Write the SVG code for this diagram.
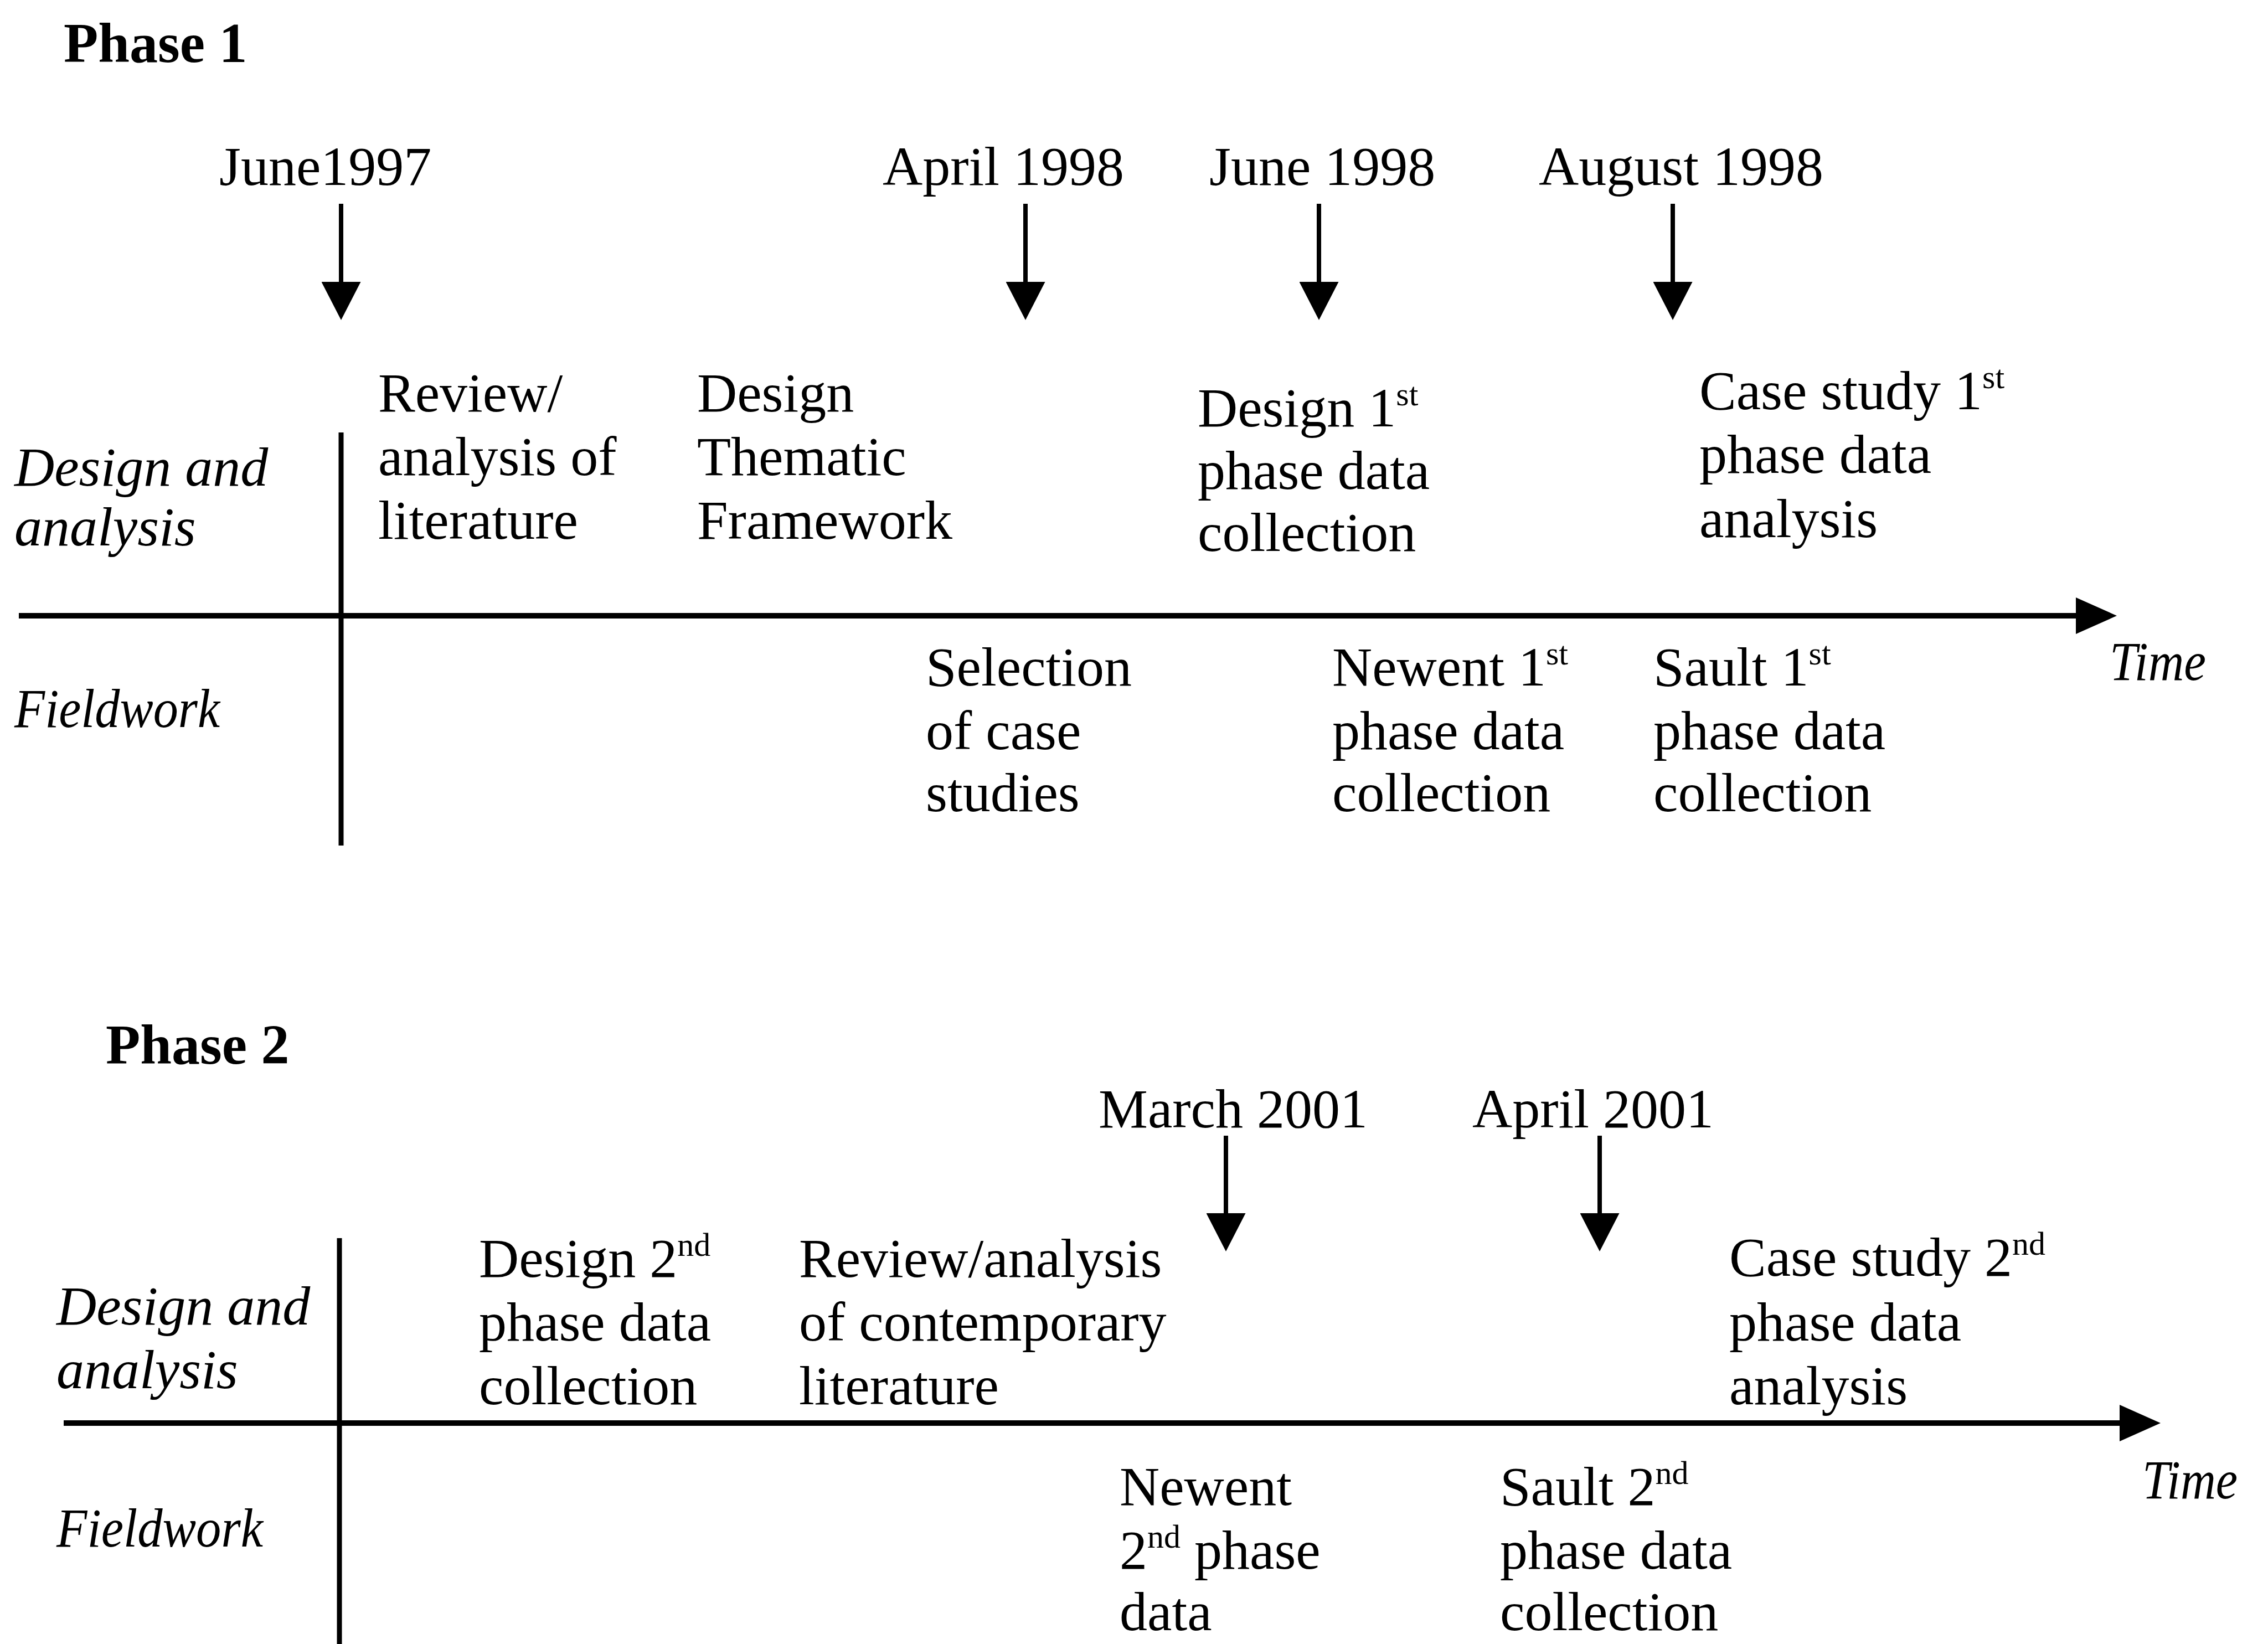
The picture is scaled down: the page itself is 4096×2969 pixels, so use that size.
<svg xmlns="http://www.w3.org/2000/svg" width="4096" height="2969" viewBox="0 0 4096 2969">
<style>
text{font-family:"Liberation Serif","Times New Roman",serif;font-size:100px;fill:#000}
.b{font-weight:bold;font-size:102px}
.i{font-style:italic}
.sup{font-size:60px}
.stem{stroke:#000;stroke-width:8;fill:none}
.vline{stroke:#000;stroke-width:9;fill:none}
.axis{stroke:#000;stroke-width:10;fill:none}
</style>
<defs>
<marker id="dateHead" markerUnits="userSpaceOnUse" viewBox="0 0 69 71" markerWidth="69" markerHeight="71" refX="0" refY="35.5" orient="auto">
<path d="M0,0 L69,35.5 L0,71 Z" fill="#000"/>
</marker>
<marker id="axisHead" markerUnits="userSpaceOnUse" viewBox="0 0 74 66" markerWidth="74" markerHeight="66" refX="0" refY="33" orient="auto">
<path d="M0,0 L74,33 L0,66 Z" fill="#000"/>
</marker>
</defs>
<rect width="4096" height="2969" fill="#fff"/>

<g id="connectors">
<!-- Phase 1 -->
<line class="vline" x1="616" y1="781" x2="616" y2="1527"/>
<line class="axis" x1="34" y1="1112" x2="3749" y2="1112" marker-end="url(#axisHead)"/>
<line class="stem" x1="616" y1="368" x2="616" y2="509" marker-end="url(#dateHead)"/>
<line class="stem" x1="1852" y1="368" x2="1852" y2="509" marker-end="url(#dateHead)"/>
<line class="stem" x1="2382" y1="368" x2="2382" y2="509" marker-end="url(#dateHead)"/>
<line class="stem" x1="3021" y1="368" x2="3021" y2="509" marker-end="url(#dateHead)"/>
<!-- Phase 2 -->
<line class="vline" x1="613" y1="2236" x2="613" y2="2969"/>
<line class="axis" x1="115" y1="2570" x2="3828" y2="2570" marker-end="url(#axisHead)"/>
<line class="stem" x1="2214" y1="2051" x2="2214" y2="2191" marker-end="url(#dateHead)"/>
<line class="stem" x1="2889" y1="2051" x2="2889" y2="2191" marker-end="url(#dateHead)"/>
</g>

<g id="phase1">
<g id="p1-title"><text class="b" x="115" y="112">Phase 1</text></g>
<g id="p1-date-june1997"><text x="396" y="334">June1997</text></g>
<g id="p1-date-april1998"><text x="1594" y="334">April 1998</text></g>
<g id="p1-date-june1998"><text x="2184" y="334">June 1998</text></g>
<g id="p1-date-aug1998"><text x="2779" y="334">August 1998</text></g>

<g id="p1-row-design"><text class="i" x="26" y="877">Design and</text><text class="i" x="26" y="985">analysis</text></g>
<g id="p1-row-field"><text class="i" x="26" y="1313" textLength="371" lengthAdjust="spacingAndGlyphs">Fieldwork</text></g>
<g id="p1-time"><text class="i" x="3810" y="1228" textLength="174" lengthAdjust="spacingAndGlyphs">Time</text></g>

<g id="p1-review"><text x="683" y="743">Review/</text><text x="683" y="858">analysis of</text><text x="683" y="973">literature</text></g>
<g id="p1-framework"><text x="1259" y="743">Design</text><text x="1259" y="858">Thematic</text><text x="1259" y="973">Framework</text></g>
<g id="p1-design1"><text x="2163" y="770">Design 1<tspan class="sup" dy="-38">st</tspan></text><text x="2163" y="883">phase data</text><text x="2163" y="995">collection</text></g>
<g id="p1-case1"><text x="3069" y="739">Case study 1<tspan class="sup" dy="-38">st</tspan></text><text x="3069" y="854">phase data</text><text x="3069" y="970">analysis</text></g>

<g id="p1-selection"><text x="1672" y="1238">Selection</text><text x="1672" y="1353">of case</text><text x="1672" y="1465">studies</text></g>
<g id="p1-newent1"><text x="2406" y="1238">Newent 1<tspan class="sup" dy="-38">st</tspan></text><text x="2406" y="1353">phase data</text><text x="2406" y="1465">collection</text></g>
<g id="p1-sault1"><text x="2986" y="1238">Sault 1<tspan class="sup" dy="-38">st</tspan></text><text x="2986" y="1353">phase data</text><text x="2986" y="1465">collection</text></g>
</g>

<g id="phase2">
<g id="p2-title"><text class="b" x="191" y="1921">Phase 2</text></g>
<g id="p2-date-march2001"><text x="1984" y="2036">March 2001</text></g>
<g id="p2-date-april2001"><text x="2659" y="2036">April 2001</text></g>

<g id="p2-row-design"><text class="i" x="102" y="2392">Design and</text><text class="i" x="102" y="2507">analysis</text></g>
<g id="p2-row-field"><text class="i" x="102" y="2793" textLength="373" lengthAdjust="spacingAndGlyphs">Fieldwork</text></g>
<g id="p2-time"><text class="i" x="3869" y="2706" textLength="172" lengthAdjust="spacingAndGlyphs">Time</text></g>

<g id="p2-design2"><text x="865" y="2306">Design 2<tspan class="sup" dy="-38">nd</tspan></text><text x="865" y="2421">phase data</text><text x="865" y="2536">collection</text></g>
<g id="p2-review"><text x="1443" y="2306">Review/analysis</text><text x="1443" y="2421">of contemporary</text><text x="1443" y="2536">literature</text></g>
<g id="p2-case2"><text x="3123" y="2304">Case study 2<tspan class="sup" dy="-38">nd</tspan></text><text x="3123" y="2421">phase data</text><text x="3123" y="2536">analysis</text></g>

<g id="p2-newent2"><text x="2022" y="2718">Newent</text><text x="2022" y="2833">2<tspan class="sup" dy="-38">nd</tspan><tspan dy="38"> phase</tspan></text><text x="2022" y="2944">data</text></g>
<g id="p2-sault2"><text x="2709" y="2718">Sault 2<tspan class="sup" dy="-38">nd</tspan></text><text x="2709" y="2833">phase data</text><text x="2709" y="2944">collection</text></g>
</g>
</svg>
